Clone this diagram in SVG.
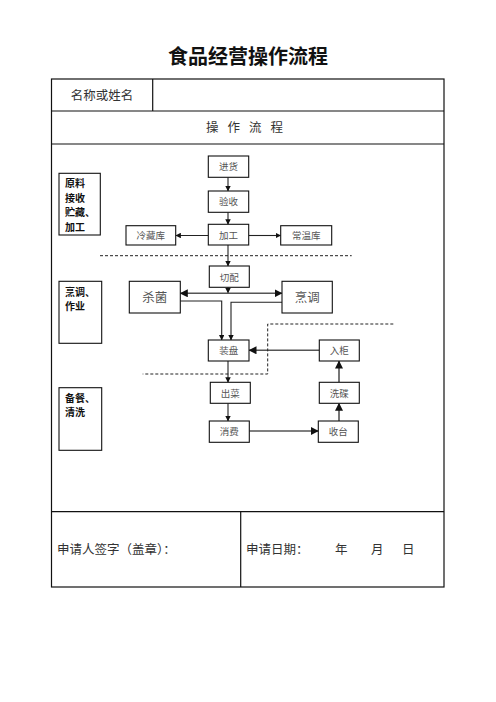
<svg xmlns="http://www.w3.org/2000/svg" width="496" height="702" viewBox="0 0 496 702">
  <style>
    .cjk { font-family: "Noto Sans CJK SC", "DejaVu Sans", sans-serif; }
    .cell { fill: #333; font-size: 12.5px; }
    .box { fill: #fff; stroke: #111; stroke-width: 1.1; }
    .lbl { fill: #555; font-size: 9.5px; text-anchor: middle; }
    .big { fill: #555; font-size: 12.5px; text-anchor: middle; }
    .side { fill: #111; font-size: 10px; font-weight: bold; }
    .ln { fill: none; stroke: #222; stroke-width: 1.1; }
    .gl { fill: none; stroke: #555; stroke-width: 1.6; }
    .dash { fill: none; stroke: #222; stroke-width: 1; stroke-dasharray: 3 2; }
    .frame { fill: none; stroke: #111; stroke-width: 1.2; }
  </style>
  <defs>
    <marker id="ah" viewBox="0 0 8 8" refX="7.5" refY="4" markerWidth="5" markerHeight="5" orient="auto">
      <path d="M0,0 L8,4 L0,8 z" fill="#111"/>
    </marker>
    <marker id="ahs" viewBox="0 0 8 8" refX="0.5" refY="4" markerWidth="5" markerHeight="5" orient="auto">
      <path d="M8,0 L0,4 L8,8 z" fill="#111"/>
    </marker>
  </defs>
  <rect width="496" height="702" fill="#fff"/>

  <!-- title -->
  <text class="cjk" x="248" y="64" font-size="20" font-weight="bold" text-anchor="middle" fill="#111">食品经营操作流程</text>

  <!-- form frame -->
  <g id="form">
    <rect class="frame" x="51.5" y="79" width="392.5" height="508"/>
    <line class="frame" x1="51.5" y1="111" x2="444" y2="111"/>
    <line class="frame" x1="152.7" y1="79" x2="152.7" y2="111"/>
    <line class="frame" x1="51.5" y1="144" x2="444" y2="144"/>
    <line class="frame" x1="51.5" y1="511.7" x2="444" y2="511.7"/>
    <line class="frame" x1="240.7" y1="511.7" x2="240.7" y2="587"/>
    <text class="cjk cell" x="102" y="99.5" text-anchor="middle">名称或姓名</text>
    <text class="cjk cell" x="249" y="132" text-anchor="middle" letter-spacing="9">操作流程</text>
    <text class="cjk cell" x="57" y="554">申请人签字（盖章）：</text>
    <text class="cjk cell" x="246" y="554">申请日期：</text>
    <text class="cjk cell" x="335" y="554">年</text>
    <text class="cjk cell" x="371" y="554">月</text>
    <text class="cjk cell" x="402" y="554">日</text>
  </g>

  <!-- stage labels -->
  <g id="stage-1">
    <rect class="box" x="59" y="173.3" width="41.3" height="61.7"/>
    <text class="cjk side" x="65" y="187">原料</text>
    <text class="cjk side" x="65" y="201.5">接收</text>
    <text class="cjk side" x="65" y="216">贮藏、</text>
    <text class="cjk side" x="65" y="230.5">加工</text>
  </g>
  <g id="stage-2">
    <rect class="box" x="59" y="281.3" width="42.7" height="62"/>
    <text class="cjk side" x="65" y="295.5">烹调、</text>
    <text class="cjk side" x="65" y="310">作业</text>
  </g>
  <g id="stage-3">
    <rect class="box" x="59" y="387.7" width="42.7" height="62.6"/>
    <text class="cjk side" x="65" y="401.5">备餐、</text>
    <text class="cjk side" x="65" y="416">清洗</text>
  </g>

  <!-- connectors -->
  <g id="connectors">
    <line class="ln" x1="228" y1="177.3" x2="228" y2="191" marker-end="url(#ah)"/>
    <line class="ln" x1="228" y1="212.3" x2="228" y2="224.3" marker-end="url(#ah)"/>
    <line class="ln" x1="208.3" y1="235.5" x2="175.7" y2="235.5" marker-end="url(#ah)"/>
    <line class="ln" x1="249" y1="235.5" x2="280.7" y2="235.5" marker-end="url(#ah)"/>
    <line class="ln" x1="228" y1="245" x2="228" y2="266" marker-end="url(#ah)"/>
    <line class="ln" x1="228" y1="287.3" x2="228" y2="293" marker-end="url(#ah)"/>
    <line class="gl" x1="180.3" y1="293.3" x2="282" y2="293.3" marker-start="url(#ahs)" marker-end="url(#ah)"/>
    <polyline class="ln" points="180.3,301 221.7,301 221.7,340" marker-end="url(#ah)"/>
    <polyline class="ln" points="282,302.3 231,302.3 231,340" marker-end="url(#ah)"/>
    <line class="gl" x1="319.3" y1="350.3" x2="249" y2="350.3" marker-end="url(#ah)"/>
    <line class="ln" x1="228" y1="361" x2="228" y2="382.3" marker-end="url(#ah)"/>
    <line class="ln" x1="228" y1="403.3" x2="228" y2="421" marker-end="url(#ah)"/>
    <line class="gl" x1="249.3" y1="431" x2="318.3" y2="431" marker-end="url(#ah)"/>
    <line class="gl" x1="339" y1="421" x2="339" y2="403.3" marker-end="url(#ah)"/>
    <line class="gl" x1="339" y1="382.3" x2="339" y2="361" marker-end="url(#ah)"/>
    <!-- stage boundaries -->
    <line class="dash" x1="100" y1="255.7" x2="351.7" y2="255.7"/>
    <polyline class="dash" points="393.3,324 267.7,324 267.7,374 142.7,374"/>
  </g>

  <!-- flow nodes -->
  <g id="n-jinhuo"><rect class="box" x="208.3" y="156" width="40.4" height="21.3"/><text class="cjk lbl" x="228.5" y="170.3">进货</text></g>
  <g id="n-yanshou"><rect class="box" x="208.3" y="191" width="40.4" height="21.3"/><text class="cjk lbl" x="228.5" y="205.3">验收</text></g>
  <g id="n-jiagong"><rect class="box" x="208.3" y="224.3" width="40.4" height="20.7"/><text class="cjk lbl" x="228.5" y="238.5">加工</text></g>
  <g id="n-lengcang"><rect class="box" x="126" y="225.7" width="49.7" height="19.3"/><text class="cjk lbl" x="150.8" y="239.3">冷藏库</text></g>
  <g id="n-changwen"><rect class="box" x="280.7" y="225.7" width="51" height="19.3"/><text class="cjk lbl" x="306.2" y="239.3">常温库</text></g>
  <g id="n-qiepei"><rect class="box" x="209.3" y="266" width="40" height="21.3"/><text class="cjk lbl" x="229.3" y="280.5">切配</text></g>
  <g id="n-shajun"><rect class="box" x="129.3" y="281.3" width="51" height="31.7"/><text class="cjk big" x="154.8" y="301.5">杀菌</text></g>
  <g id="n-pengtiao"><rect class="box" x="282" y="281.3" width="50.3" height="31.7"/><text class="cjk big" x="307.2" y="301.5">烹调</text></g>
  <g id="n-zhuangpan"><rect class="box" x="208.3" y="340" width="40.7" height="21"/><text class="cjk lbl" x="228.7" y="354.3">装盘</text></g>
  <g id="n-rugui"><rect class="box" x="319.3" y="340" width="40" height="21"/><text class="cjk lbl" x="339.3" y="354.3">入柜</text></g>
  <g id="n-chucai"><rect class="box" x="210.3" y="382.3" width="40" height="21"/><text class="cjk lbl" x="230.3" y="396.5">出菜</text></g>
  <g id="n-xidie"><rect class="box" x="319.3" y="382.3" width="40" height="21"/><text class="cjk lbl" x="339.3" y="396.5">洗碟</text></g>
  <g id="n-xiaofei"><rect class="box" x="209.3" y="421" width="40" height="21.3"/><text class="cjk lbl" x="229.3" y="435.3">消费</text></g>
  <g id="n-shoutai"><rect class="box" x="318.3" y="421" width="40" height="21.3"/><text class="cjk lbl" x="338.3" y="435.3">收台</text></g>
</svg>
